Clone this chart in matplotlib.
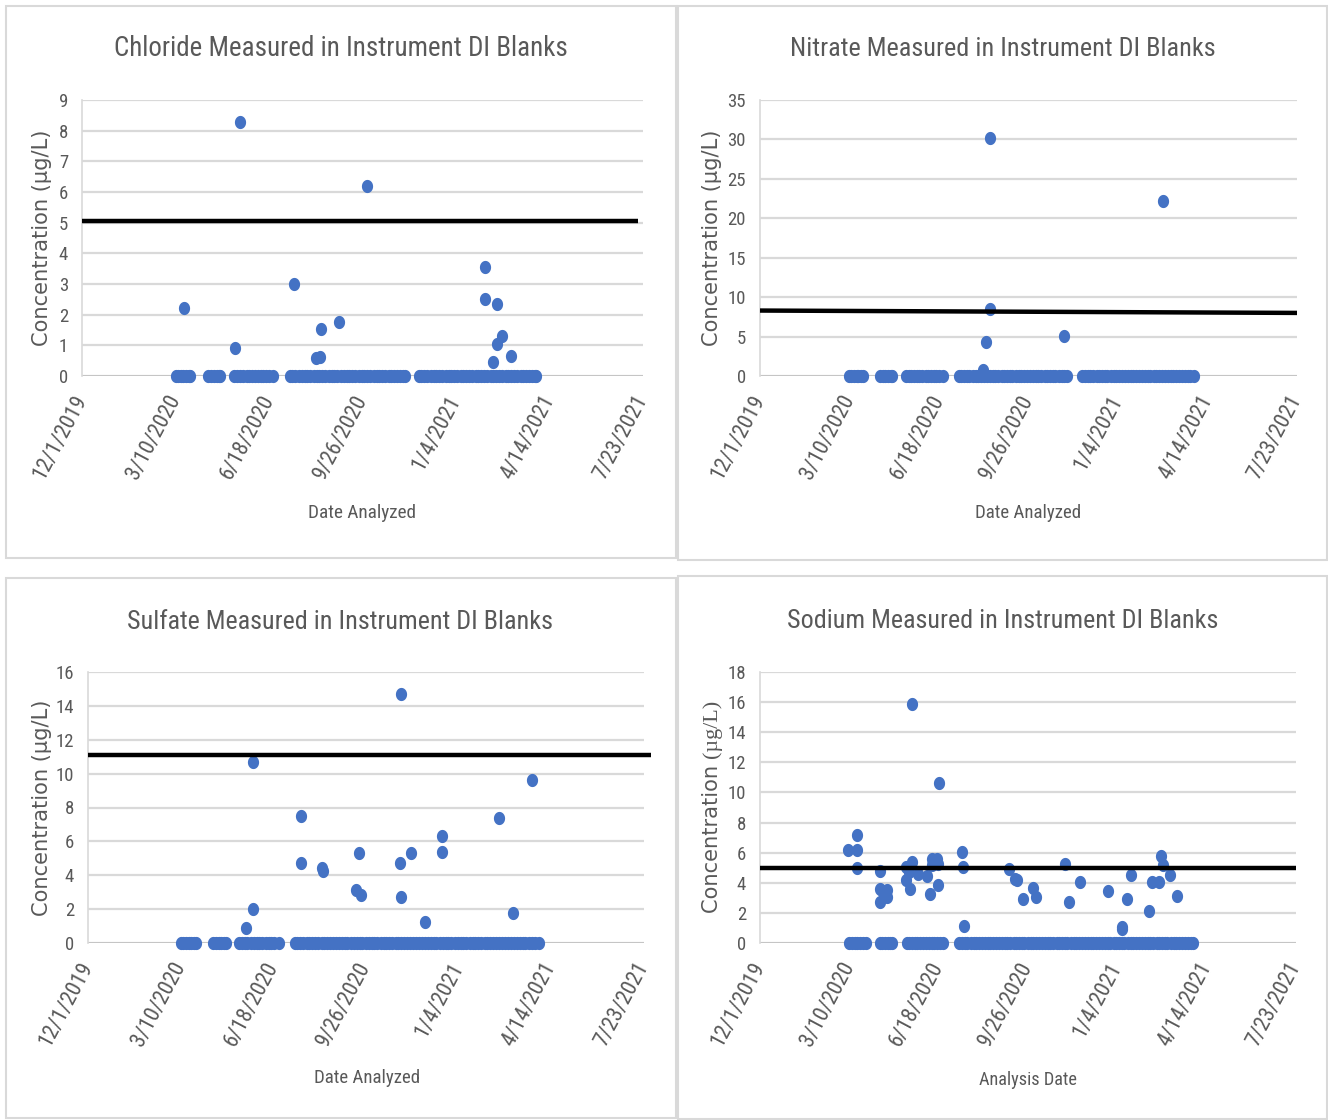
import matplotlib
matplotlib.use('Agg')
import matplotlib.pyplot as plt
import numpy as np
import pandas as pd
from matplotlib.path import Path
from matplotlib.patches import Rectangle
from matplotlib import font_manager as fm

# ---------------- data ----------------
BASE = pd.Timestamp('2019-12-01')
tick_labels = ['12/1/2019', '3/10/2020', '6/18/2020', '9/26/2020',
               '1/4/2021', '4/14/2021', '7/23/2021']

# days after 12/1/2019 of blanks that measured 0
chloride_zero_days = [100, 103, 106, 108, 111, 114, 116,
                      135, 138, 141, 144, 146, 148,
                      163, 166, 169, 172, 176, 179, 182, 185, 188, 191, 194, 197, 200, 204,
                      222, 225, 228, 232, 235, 238, 241, 244, 248, 251, 254, 257, 260, 264,
                      267, 270, 273, 277, 280, 283, 286, 289, 292, 296, 299, 302, 305, 308,
                      312, 315, 318, 321, 324, 328, 331, 334, 337, 340, 343, 345,
                      360, 363, 366, 369, 373, 376, 379, 382, 385, 389, 392, 395, 398, 401,
                      405, 408, 411, 414, 417, 421, 424, 427, 430, 433, 437, 440, 443, 446,
                      449, 453, 456, 459, 462, 465, 469, 472, 475, 478, 481, 484, 486]
chloride_hit_days = [109, 169, 164, 227, 256, 250, 255, 275, 305, 431, 431, 444, 449, 444, 440, 459]
chloride_hit_vals = [2.22, 8.28, 0.91, 3.0, 1.53, 0.59, 0.62, 1.76, 6.2, 3.55, 2.51, 2.35, 1.3, 1.04, 0.46, 0.65]

nitrate_zero_days = [99, 102, 105, 108, 110, 113, 115,
                     134, 137, 140, 143, 146, 148,
                     163, 166, 169, 172, 175, 178, 181, 185, 188, 191, 194, 197, 200, 205,
                     222, 225, 228, 231, 234, 238, 241, 244, 247, 250, 254, 257, 260, 263,
                     266, 270, 273, 276, 279, 282, 286, 289, 292, 295, 298, 302, 305, 308,
                     311, 314, 318, 321, 324, 327, 330, 334, 337, 340, 343,
                     360, 363, 366, 369, 372, 376, 379, 382, 385, 388, 392, 395, 398, 401,
                     404, 408, 411, 414, 417, 420, 424, 427, 430, 433, 436, 440, 443, 446,
                     449, 452, 456, 459, 462, 465, 468, 472, 475, 478, 481, 485]
nitrate_hit_days = [257, 450, 257, 253, 340, 249]
nitrate_hit_vals = [30.2, 22.2, 8.5, 4.3, 5.1, 0.8]

sulfate_zero_days = [100, 103, 106, 109, 111, 114, 117,
                     135, 138, 141, 144, 147, 149,
                     163, 166, 169, 172, 176, 179, 182, 185, 188, 192, 195, 198, 201, 206,
                     223, 226, 229, 232, 236, 239, 242, 245, 248, 252, 255, 258, 261, 264,
                     268, 271, 274, 277, 280, 284, 287, 290, 293, 296, 300, 303, 306, 309,
                     312, 316, 319, 322, 325, 328, 332, 335, 338, 341, 344, 348, 351, 354,
                     357, 360, 364, 367, 370, 373, 376, 380, 383, 386, 389, 392, 396, 399,
                     402, 405, 408, 412, 415, 418, 421, 424, 428, 431, 434, 437, 440, 444,
                     447, 450, 453, 456, 460, 463, 466, 469, 472, 476, 479, 482, 487]
sulfate_hit_days = [338, 178, 178, 170, 230, 230, 253, 254, 292, 289, 295, 337, 338, 349, 364, 382, 382, 444, 459, 479]
sulfate_hit_vals = [14.7, 10.7, 2.0, 0.9, 7.5, 4.7, 4.4, 4.25, 5.3, 3.1, 2.85, 4.7, 2.7, 5.3, 1.25, 6.3, 5.4, 7.4, 1.8, 9.6]

sodium_zero_days = [100, 103, 106, 109, 112, 115, 119,
                    134, 137, 140, 143, 146, 148,
                    164, 167, 170, 173, 176, 179, 182, 186, 189, 192, 195, 198, 201, 205,
                    223, 226, 229, 232, 236, 239, 242, 245, 248, 252, 255, 258, 261, 264,
                    268, 271, 274, 277, 280, 284, 287, 290, 293, 296, 300, 303, 306, 309,
                    312, 316, 319, 322, 325, 328, 332, 335, 338, 341, 344, 348, 351, 354,
                    357, 360, 364, 367, 370, 373, 376, 380, 383, 386, 389, 392, 396, 399,
                    402, 405, 408, 412, 415, 418, 421, 424, 428, 431, 434, 437, 440, 444,
                    447, 450, 453, 456, 460, 463, 466, 469, 472, 476, 479, 482, 485]
sodium_hit_days = [99, 109, 109, 109, 134, 134, 142, 142, 134, 138,
                   163, 170, 163, 168, 177, 167, 170, 187, 190, 192, 198, 193, 199, 200, 199,
                   226, 227, 228, 279, 286, 288, 294, 306, 309, 341, 346, 358, 389, 405, 405,
                   411, 415, 436, 439, 447, 449, 451, 459, 467]
sodium_hit_vals = [6.2, 7.2, 6.2, 4.95, 4.8, 3.6, 3.55, 3.07, 2.73, 3.4,
                   5.05, 5.4, 4.17, 3.6, 4.57, 4.7, 15.9, 4.43, 3.25, 5.6, 5.6, 5.2, 5.28, 10.65, 3.84,
                   6.05, 5.05, 1.13, 4.9, 4.22, 4.2, 2.89, 3.62, 3.07, 5.28, 2.74, 4.06, 3.44, 1.04, 0.9,
                   2.89, 4.5, 2.14, 4.06, 4.06, 5.76, 5.17, 4.5, 3.11]

# threshold (reporting-limit) lines: start / end dates and values
chloride_limit_dates = ['12/1/2019', '7/18/2021']
chloride_limit_vals = [5.05, 5.05]
nitrate_limit_dates = ['12/1/2019', '7/23/2021']
nitrate_limit_vals = [8.3, 8.0]
sulfate_limit_dates = ['12/1/2019', '7/31/2021']
sulfate_limit_vals = [11.1, 11.1]
sodium_limit_dates = ['12/1/2019', '7/23/2021']
sodium_limit_vals = [5.0, 5.0]

titles = ['Chloride Measured in Instrument DI Blanks',
          'Nitrate Measured in Instrument DI Blanks',
          'Sulfate Measured in Instrument DI Blanks',
          'Sodium Measured in Instrument DI Blanks']
xlabels = ['Date Analyzed', 'Date Analyzed', 'Date Analyzed', 'Analysis Date']
ylabel_main = 'Concentration '
ylabel_unit = '(µg/L)'
ymaxes = [9, 35, 16, 18]
ysteps = [1, 5, 2, 2]

# ---------------- fonts ----------------
avail = {f.name for f in fm.fontManager.ttflist}

def pick(cands, default='DejaVu Sans'):
    for c in cands:
        if c in avail:
            return c
    return default

NARROW = pick(['Liberation Sans Narrow', 'Roboto Condensed', 'Open Sans Condensed',
               'PT Sans Narrow', 'Archivo Narrow', 'Fira Sans Condensed',
               'IBM Plex Sans Condensed', 'Encode Sans Condensed', 'Asap Condensed',
               'Barlow Semi Condensed', 'Sofia Sans Condensed', 'Roboto', 'Lato'])
SERIF = pick(['Cambria', 'Liberation Serif', 'DejaVu Serif'])
NFAM = [NARROW, 'DejaVu Sans']

# ---------------- figure ----------------
W, H = 1328, 1120
fig = plt.figure(figsize=(W / 100, H / 100), dpi=100)
renderer = fig.canvas.get_renderer()
GREY = '#595959'
BLUE = '#4472C4'

def text_width(s, size, family, weight='normal'):
    t = fig.text(0, 0, s, fontsize=size, family=family, weight=weight)
    w = t.get_window_extent(renderer).width
    t.remove()
    return w

def fit_size(s, target_px, family, weight='normal'):
    return 20 * target_px / text_width(s, 20, family, weight)

th = np.linspace(0, 2 * np.pi, 41)
ellipse = Path(np.column_stack([0.85 * np.cos(th), np.sin(th)]))

plot_boxes = [(82, 643, 100, 376), (760, 1297, 100, 376),
              (88, 644, 672, 943), (760, 1296, 672, 943)]
panel_boxes = [(6, 676, 6, 558), (678, 1327, 6, 560),
               (6, 676, 578, 1118), (678, 1327, 576, 1119)]
title_pos = [(341, 49), (1003, 49), (340, 622), (1003, 621)]
title_w = [452, 425, 425, 430]
xlabel_pos = [(362, 513), (1028, 513), (367, 1078), (1028, 1080)]
xlabel_w = [108, 106, 106, 98]
ylabel_x = [42, 712, 42, 712]

xtick_size = min(fit_size('12/1/2019', 92, NFAM), 16)
ytick_size = 13.5
ylab_size = fit_size('Concentration (µg/L)', 217, ['DejaVu Sans'])

def to_dates(days):
    return BASE + pd.to_timedelta(np.asarray(days), unit='D')

series = [
    (chloride_zero_days, chloride_hit_days, chloride_hit_vals, chloride_limit_dates, chloride_limit_vals),
    (nitrate_zero_days, nitrate_hit_days, nitrate_hit_vals, nitrate_limit_dates, nitrate_limit_vals),
    (sulfate_zero_days, sulfate_hit_days, sulfate_hit_vals, sulfate_limit_dates, sulfate_limit_vals),
    (sodium_zero_days, sodium_hit_days, sodium_hit_vals, sodium_limit_dates, sodium_limit_vals),
]

tick_dates = pd.to_datetime(tick_labels, format='%m/%d/%Y')

for i, (zd, hd, hv, ld, lv) in enumerate(series):
    pl, pr, pt, pb = panel_boxes[i]
    fig.patches.append(Rectangle((pl / W, 1 - pb / H), (pr - pl) / W, (pb - pt) / H,
                                 transform=fig.transFigure, fill=False,
                                 edgecolor='#d9d9d9', linewidth=1.5))
    l, r, t, b = plot_boxes[i]
    ax = fig.add_axes([l / W, 1 - b / H, (r - l) / W, (b - t) / H])
    ax.set_xlim(tick_dates[0], tick_dates[-1])
    ax.set_ylim(0, ymaxes[i])
    ax.set_yticks(np.arange(0, ymaxes[i] + 0.001, ysteps[i]))
    ax.set_xticks(tick_dates)
    ax.set_xticklabels(tick_labels)
    ax.grid(axis='y', color='#d9d9d9', linewidth=1.6)
    ax.set_axisbelow(True)
    for s in ['top', 'right', 'bottom']:
        ax.spines[s].set_visible(False)
    ax.spines['left'].set_color('#d9d9d9')
    ax.spines['left'].set_linewidth(1.2)
    ax.axhline(0, color='#bfbfbf', linewidth=1.8, zorder=1)
    ax.tick_params(axis='both', length=0, labelcolor=GREY)
    ax.tick_params(axis='y', pad=10, labelsize=ytick_size)
    ax.tick_params(axis='x', pad=15, labelsize=xtick_size)
    for lab in ax.get_yticklabels():
        lab.set_family(NFAM)
    for lab in ax.get_xticklabels():
        lab.set_family(NFAM)
        lab.set_rotation(62)
        lab.set_ha('right')
        lab.set_va('center')
        lab.set_rotation_mode('anchor')

    xs = list(to_dates(zd)) + list(to_dates(hd))
    ys = [0.0] * len(zd) + list(hv)
    ax.scatter(xs, ys, marker=ellipse, s=9.5 ** 2, color=BLUE, linewidths=0,
               zorder=3, clip_on=False)
    ax.plot(pd.to_datetime(ld, format='%m/%d/%Y'), lv, color='black',
            linewidth=3.2, zorder=4, clip_on=False, solid_capstyle='butt')

    tx, ty = title_pos[i]
    fig.text(tx / W, 1 - ty / H, titles[i], ha='center', va='center',
             fontsize=fit_size(titles[i], title_w[i], NFAM), color=GREY, family=NFAM)
    xx, xy = xlabel_pos[i]
    fig.text(xx / W, 1 - xy / H, xlabels[i], ha='center', va='center',
             fontsize=fit_size(xlabels[i], xlabel_w[i], NFAM), color=GREY, family=NFAM)

    yc = (t + b) / 2
    if i < 3:
        fig.text(ylabel_x[i] / W, 1 - yc / H, ylabel_main + ylabel_unit, rotation=90,
                 ha='center', va='center', fontsize=ylab_size, color=GREY,
                 family=['DejaVu Sans'])
    else:
        # sodium panel: unit in a serif face, as in the reference
        t1 = fig.text(ylabel_x[i] / W, 1 - 913 / H, ylabel_main, rotation=90,
                      ha='center', va='bottom', fontsize=ylab_size, color=GREY,
                      family=['DejaVu Sans'])
        top = t1.get_window_extent(renderer).y1
        fig.text(ylabel_x[i] / W, top / H, ylabel_unit, rotation=90,
                 ha='center', va='bottom', fontsize=ylab_size * 1.05, color=GREY,
                 family=[SERIF, 'DejaVu Serif'])

fig.savefig('out.png', dpi=100, facecolor='white')
